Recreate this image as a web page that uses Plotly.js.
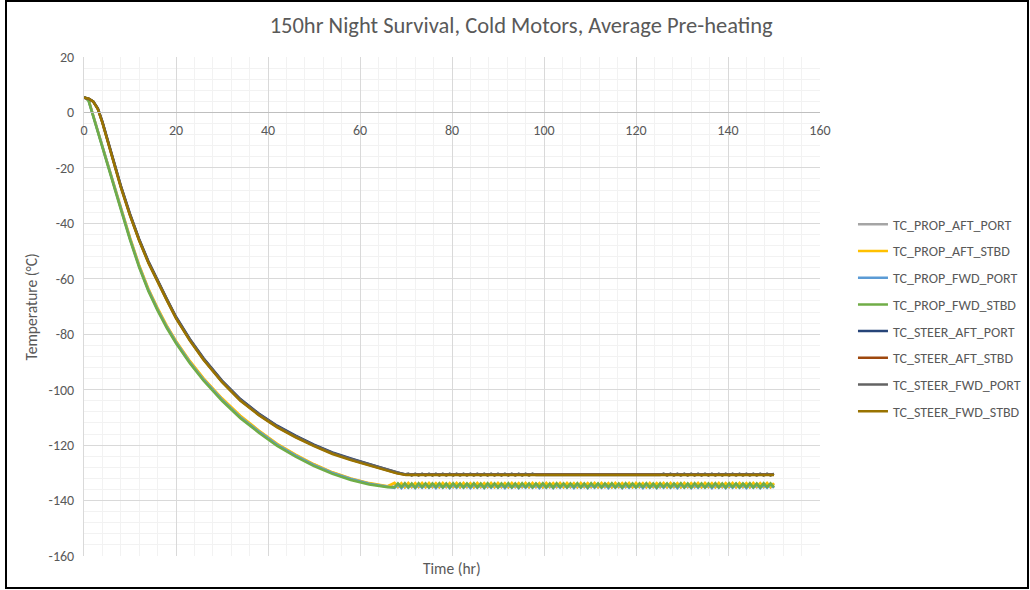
<!DOCTYPE html>
<html>
<head>
<meta charset="utf-8">
<script src="https://cdn.plot.ly/plotly-3.0.1.min.js"></script>
<style>
  html, body { margin: 0; padding: 0; background: #fff; }
  #wrap { position: relative; width: 1030px; height: 590px; }
  #chart { position: absolute; left: 0; top: 0; width: 1030px; height: 590px; }
  #frame { position: absolute; left: 5px; top: 0px; width: 1020px; height: 585px; border: 2px solid #000; pointer-events: none; }
</style>
</head>
<body>
<div id="wrap">
  <div id="chart"></div>
  <div id="frame"></div>
</div>
<script>
// ---------- DATA ----------
const seriesNames = ["TC_PROP_AFT_PORT","TC_PROP_AFT_STBD","TC_PROP_FWD_PORT","TC_PROP_FWD_STBD",
                     "TC_STEER_AFT_PORT","TC_STEER_AFT_STBD","TC_STEER_FWD_PORT","TC_STEER_FWD_STBD"];
const seriesColors = ["#A5A5A5","#FFC000","#5B9BD5","#70AD47","#264478","#9E480E","#636363","#997300"];

const yTickVals = [-160,-140,-120,-100,-80,-60,-40,-20,0,20];
const yTickText = ["-160","-140","-120","-100","-80","-60","-40","-20","0","20"];
const xTickVals = [0,20,40,60,80,100,120,140,160];
const xTickText = ["0","20","40","60","80","100","120","140","160"];

// time (hr) for the cool-down part
const tHead = [0,0.5,1,2,3,4,5,6,7,8,10,12,14,16,18,20,23,26,30,34,38,42,46,50,54,58,62,66];
// time (hr) for the thermostat-cycling part
const tTail = [67.5,68.25,69,69.75,70.5,71.25,72,72.75,73.5,74.25,75,75.75,76.5,77.25,78,78.75,79.5,80.25,81,81.75,
82.5,83.25,84,84.75,85.5,86.25,87,87.75,88.5,89.25,90,90.75,91.5,92.25,93,93.75,94.5,95.25,96,96.75,
97.5,98.25,99,99.75,100.5,101.25,102,102.75,103.5,104.25,105,105.75,106.5,107.25,108,108.75,109.5,110.25,111,111.75,
112.5,113.25,114,114.75,115.5,116.25,117,117.75,118.5,119.25,120,120.75,121.5,122.25,123,123.75,124.5,125.25,126,126.75,
127.5,128.25,129,129.75,130.5,131.25,132,132.75,133.5,134.25,135,135.75,136.5,137.25,138,138.75,139.5,140.25,141,141.75,
142.5,143.25,144,144.75,145.5,146.25,147,147.75,148.5,149.25,150];
const tSteerTail = [68,70,150];

// PROP sensors, cool-down (°C)
const propAftPortHead = [5.5,5.2,4.4,-1,-6.6,-12.4,-17.9,-23.4,-28.9,-34.4,-45.4,-55.4,-63.9,-70.9,-77.2,-82.7,-89.9,-96.2,-103.4,-109.7,-114.9,-119.7,-123.6,-127,-129.9,-132.1,-133.8,-134.9];
const propAftStbdHead = [5.5,5.2,4.5,-0.8,-6.4,-12.1,-17.6,-23.1,-28.6,-34.1,-45.1,-55.1,-63.6,-70.6,-76.9,-82.4,-89.6,-95.9,-103.1,-109.4,-114.7,-119.5,-123.4,-126.9,-129.8,-132,-133.7,-134.8];
const propFwdPortHead = [5.5,5.1,4.3,-1.2,-6.9,-12.6,-18.1,-23.6,-29.1,-34.6,-45.6,-55.6,-64.1,-71.1,-77.4,-82.9,-90.1,-96.4,-103.6,-109.9,-115.1,-119.9,-123.8,-127.2,-130,-132.2,-133.9,-135];
const propFwdStbdHead = [5.5,5.1,4.2,-1.5,-7.2,-13,-18.5,-24,-29.5,-35,-46,-56,-64.5,-71.5,-77.8,-83.3,-90.5,-96.8,-104,-110.3,-115.5,-120.3,-124.2,-127.6,-130.4,-132.6,-134.2,-135.2];

// PROP sensors, cycling (°C)
const propAftPortTail = [
-134.0,-135.2,-134.1,-135.3,-134.0,-135.2,-134.1,-135.2,-134.0,-135.3,
-134.0,-135.2,-134.1,-135.3,-134.0,-135.2,-134.1,-135.2,-134.0,-135.3,
-134.0,-135.2,-134.1,-135.3,-134.0,-135.2,-134.1,-135.2,-134.0,-135.3,
-134.0,-135.2,-134.1,-135.3,-134.0,-135.2,-134.1,-135.2,-134.0,-135.3,
-134.0,-135.2,-134.1,-135.3,-134.0,-135.2,-134.1,-135.2,-134.0,-135.3,
-134.0,-135.2,-134.1,-135.3,-134.0,-135.2,-134.1,-135.2,-134.0,-135.3,
-134.0,-135.2,-134.1,-135.3,-134.0,-135.2,-134.1,-135.2,-134.0,-135.3,
-134.0,-135.2,-134.1,-135.3,-134.0,-135.2,-134.1,-135.2,-134.0,-135.3,
-134.0,-135.2,-134.1,-135.3,-134.0,-135.2,-134.1,-135.2,-134.0,-135.3,
-134.0,-135.2,-134.1,-135.3,-134.0,-135.2,-134.1,-135.2,-134.0,-135.3,
-134.0,-135.2,-134.1,-135.3,-134.0,-135.2,-134.1,-135.2,-134.0,-135.3,
-134.0];
const propAftStbdTail = [
-133.6,-135.0,-133.7,-135.1,-133.6,-135.0,-133.7,-135.0,-133.6,-135.1,
-133.6,-135.0,-133.7,-135.1,-133.6,-135.0,-133.7,-135.0,-133.6,-135.1,
-133.6,-135.0,-133.7,-135.1,-133.6,-135.0,-133.7,-135.0,-133.6,-135.1,
-133.6,-135.0,-133.7,-135.1,-133.6,-135.0,-133.7,-135.0,-133.6,-135.1,
-133.6,-135.0,-133.7,-135.1,-133.6,-135.0,-133.7,-135.0,-133.6,-135.1,
-133.6,-135.0,-133.7,-135.1,-133.6,-135.0,-133.7,-135.0,-133.6,-135.1,
-133.6,-135.0,-133.7,-135.1,-133.6,-135.0,-133.7,-135.0,-133.6,-135.1,
-133.6,-135.0,-133.7,-135.1,-133.6,-135.0,-133.7,-135.0,-133.6,-135.1,
-133.6,-135.0,-133.7,-135.1,-133.6,-135.0,-133.7,-135.0,-133.6,-135.1,
-133.6,-135.0,-133.7,-135.1,-133.6,-135.0,-133.7,-135.0,-133.6,-135.1,
-133.6,-135.0,-133.7,-135.1,-133.6,-135.0,-133.7,-135.0,-133.6,-135.1,
-133.7];
const propFwdPortTail = [
-135.4,-134.2,-135.5,-134.1,-135.4,-134.2,-135.5,-134.2,-135.4,-134.1,
-135.4,-134.2,-135.5,-134.1,-135.4,-134.2,-135.5,-134.2,-135.4,-134.1,
-135.4,-134.2,-135.5,-134.1,-135.4,-134.2,-135.5,-134.2,-135.4,-134.1,
-135.4,-134.2,-135.5,-134.1,-135.4,-134.2,-135.5,-134.2,-135.4,-134.1,
-135.4,-134.2,-135.5,-134.1,-135.4,-134.2,-135.5,-134.2,-135.4,-134.1,
-135.4,-134.2,-135.5,-134.1,-135.4,-134.2,-135.5,-134.2,-135.4,-134.1,
-135.4,-134.2,-135.5,-134.1,-135.4,-134.2,-135.5,-134.2,-135.4,-134.1,
-135.4,-134.2,-135.5,-134.1,-135.4,-134.2,-135.5,-134.2,-135.4,-134.1,
-135.4,-134.2,-135.5,-134.1,-135.4,-134.2,-135.5,-134.2,-135.4,-134.1,
-135.4,-134.2,-135.5,-134.1,-135.4,-134.2,-135.5,-134.2,-135.4,-134.1,
-135.4,-134.2,-135.5,-134.1,-135.4,-134.2,-135.5,-134.2,-135.4,-134.1,
-135.4];
const propFwdStbdTail = [
-135.2,-133.8,-135.1,-133.7,-135.2,-133.8,-135.3,-133.7,-135.1,-133.8,
-135.2,-133.8,-135.1,-133.7,-135.2,-133.8,-135.3,-133.7,-135.1,-133.8,
-135.2,-133.8,-135.1,-133.7,-135.2,-133.8,-135.3,-133.7,-135.1,-133.8,
-135.2,-133.8,-135.1,-133.7,-135.2,-133.8,-135.3,-133.7,-135.1,-133.8,
-135.2,-133.8,-135.1,-133.7,-135.2,-133.8,-135.3,-133.7,-135.1,-133.8,
-135.2,-133.8,-135.1,-133.7,-135.2,-133.8,-135.3,-133.7,-135.1,-133.8,
-135.2,-133.8,-135.1,-133.7,-135.2,-133.8,-135.3,-133.7,-135.1,-133.8,
-135.2,-133.8,-135.1,-133.7,-135.2,-133.8,-135.3,-133.7,-135.1,-133.8,
-135.2,-133.8,-135.1,-133.7,-135.2,-133.8,-135.3,-133.7,-135.1,-133.8,
-135.2,-133.8,-135.1,-133.7,-135.2,-133.8,-135.3,-133.7,-135.1,-133.8,
-135.2,-133.8,-135.1,-133.7,-135.2,-133.8,-135.3,-133.7,-135.1,-133.8,
-135.2];

// STEER sensors, cool-down (°C)
const steerAftPortHead = [5.3,5.2,5.0,4.0,1.5,-3.3,-8.9,-14.9,-20.9,-26.4,-36.6,-45.7,-53.7,-60.7,-67.2,-73.7,-81.7,-88.7,-96.7,-103.4,-108.6,-113,-116.6,-119.8,-122.6,-124.8,-126.8,-128.7];
const steerAftStbdHead = [5.3,5.2,5.0,3.9,1.3,-3.6,-9.2,-15.2,-21.3,-26.8,-37,-46.1,-54.1,-61.1,-67.6,-74.1,-82.1,-89.1,-97.1,-103.8,-109,-113.4,-117,-120.2,-123,-125.2,-127.2,-129];
const steerFwdPortHead = [5.3,5.2,5.0,4.0,1.4,-3.5,-9.1,-15.1,-21.1,-26.6,-36.8,-45.9,-53.9,-60.9,-67.4,-73.9,-81.9,-88.9,-96.9,-103.6,-108.8,-113.2,-116.8,-120,-122.8,-125,-127,-128.9];
const steerFwdStbdHead = [5.3,5.2,5.0,3.9,1.2,-3.8,-9.4,-15.4,-21.5,-27,-37.2,-46.3,-54.3,-61.3,-67.8,-74.3,-82.3,-89.3,-97.3,-104,-109.2,-113.6,-117.2,-120.4,-123.2,-125.4,-127.4,-129.2];

// STEER sensors, holding (°C)
const steerAftPortTail = [-129.9,-130.6,-130.6];
const steerAftStbdTail = [-130.1,-130.7,-130.7];
const steerFwdStbdTail = [-130.2,-130.8,-130.8];
const steerFwdPortTail = [
-129.5,-129.9,-130.3,-130.6,
-130.3,-131.0,-130.3,-131.0,-130.3,-131.0,-130.3,-131.0,-130.3,-131.0,
-130.3,-131.0,-130.3,-131.0,-130.3,-131.0,-130.3,-131.0,-130.3,-131.0,
-130.3,-131.0,-130.3,-131.0,-130.3,-131.0,-130.3,-131.0,-130.3,-131.0,
-130.3,-131.0,-130.3,-131.0,-130.3,-131.0,-130.3,
-130.8,-130.8,-130.8,-130.8,-130.8,-130.8,-130.8,-130.8,-130.8,-130.8,
-130.8,-130.8,-130.8,-130.8,-130.8,-130.8,-130.8,-130.8,-130.8,-130.8,
-130.8,-130.8,-130.8,-130.8,-130.8,-130.8,-130.8,-130.8,-130.8,-130.8,
-130.8,-130.8,-130.8,-130.8,-130.8,-130.8,-130.8,
-130.3,-131.0,-130.3,-131.0,-130.3,-131.0,-130.3,-131.0,-130.3,-131.0,
-130.3,-131.0,-130.3,-131.0,-130.3,-131.0,-130.3,-131.0,-130.3,-131.0,
-130.3,-131.0,-130.3,-131.0,-130.3,-131.0,-130.3,-131.0,-130.3,-131.0,
-130.3,-131.0,-130.3];

// ---------- CHART ----------
const FONT = "Carlito, Calibri, Lato, 'Open Sans', sans-serif";
const TXT = "#595959";

const xs = [
  tHead.concat(tTail), tHead.concat(tTail), tHead.concat(tTail), tHead.concat(tTail),
  tHead.concat(tSteerTail), tHead.concat(tSteerTail), tHead.concat(tTail), tHead.concat(tSteerTail)
];
const ys = [
  propAftPortHead.concat(propAftPortTail),
  propAftStbdHead.concat(propAftStbdTail),
  propFwdPortHead.concat(propFwdPortTail),
  propFwdStbdHead.concat(propFwdStbdTail),
  steerAftPortHead.concat(steerAftPortTail),
  steerAftStbdHead.concat(steerAftStbdTail),
  steerFwdPortHead.concat(steerFwdPortTail),
  steerFwdStbdHead.concat(steerFwdStbdTail)
];

const traces = seriesNames.map((name, i) => ({
  type: "scatter",
  mode: "lines",
  name: name,
  x: xs[i],
  y: ys[i],
  legendgroup: "g" + i,
  line: { color: seriesColors[i], width: 2.5 },
  hoverinfo: "skip"
}));

const layout = {
  width: 1030,
  height: 590,
  margin: { l: 84, r: 210, t: 57, b: 34, pad: 0, autoexpand: false },
  paper_bgcolor: "#ffffff",
  plot_bgcolor: "#ffffff",
  font: { family: FONT, size: 14, color: TXT },
  title: {
    text: "150hr Night Survival, Cold Motors, Average Pre-heating",
    font: { family: FONT, size: 22.5, color: TXT },
    xref: "container", yref: "container",
    x: 0.506, y: 0.958, xanchor: "center", yanchor: "middle"
  },
  showlegend: true,
  legend: {
    x: 1.0448, y: 0.696, xanchor: "left", yanchor: "top",
    font: { family: FONT, size: 14, color: TXT },
    traceorder: "grouped",
    tracegroupgap: 5.5,
    bgcolor: "rgba(0,0,0,0)"
  },
  xaxis: {
    range: [0, 160],
    tickvals: xTickVals,
    ticktext: xTickText,
    showgrid: true, gridcolor: "#D9D9D9", gridwidth: 1,
    minor: { dtick: 4, showgrid: true, gridcolor: "#F2F2F2", gridwidth: 1 },
    zeroline: false,
    showline: true, linecolor: "#BFBFBF", linewidth: 1,
    anchor: "free", position: 160 / 180,
    ticks: "",
    ticklabelstandoff: 5,
    tickfont: { family: FONT, size: 14, color: TXT },
    automargin: false,
    fixedrange: true
  },
  yaxis: {
    range: [-160, 20],
    tickvals: yTickVals,
    ticktext: yTickText,
    showgrid: true, gridcolor: "#D9D9D9", gridwidth: 1,
    minor: { dtick: 4, showgrid: true, gridcolor: "#F2F2F2", gridwidth: 1 },
    zeroline: false,
    showline: true, linecolor: "#D9D9D9", linewidth: 1,
    ticks: "",
    ticklabelstandoff: 6,
    tickfont: { family: FONT, size: 14, color: TXT },
    automargin: false,
    fixedrange: true
  },
  annotations: [
    { text: "Time (hr)", xref: "x", yref: "paper", x: 80, y: -0.026,
      xanchor: "center", yanchor: "middle", showarrow: false,
      font: { family: FONT, size: 15.5, color: TXT } },
    { text: "Temperature (°C)", xref: "paper", yref: "paper", x: -0.0707, y: 0.5,
      xanchor: "center", yanchor: "middle", textangle: -90, showarrow: false,
      font: { family: FONT, size: 15.5, color: TXT } }
  ]
};

Plotly.newPlot("chart", traces, layout, { displayModeBar: false, staticPlot: true });
</script>
</body>
</html>
